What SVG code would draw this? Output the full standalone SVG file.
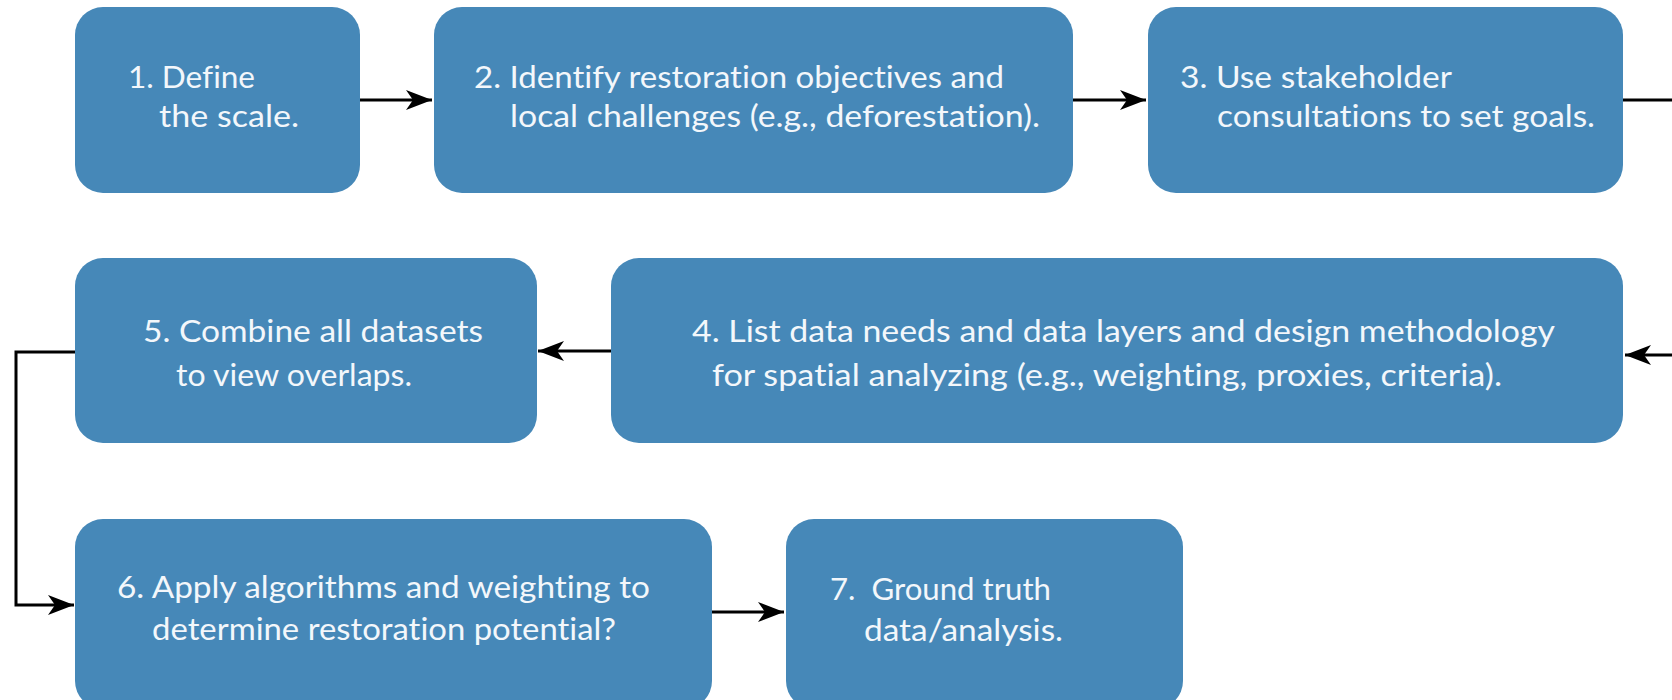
<svg xmlns="http://www.w3.org/2000/svg" width="1672" height="700" viewBox="0 0 1672 700">
<style>
.box{fill:#4688b8;}
.t{font-family:Lato,"Liberation Sans",sans-serif;font-size:30px;fill:#f3f7fb;font-variant-ligatures:none;}
.c{fill:none;stroke:#000;stroke-width:3;}
</style>
<defs>
<marker id="arr" markerUnits="userSpaceOnUse" markerWidth="28" markerHeight="22" refX="26" refY="11" orient="auto">
<path d="M0,1 L26,11 L0,21 L7,11 z" fill="#000"/>
</marker>
</defs>
<rect width="1672" height="700" fill="#fff"/>
<g id="connectors">
<path class="c" d="M360,100 H432" marker-end="url(#arr)"/>
<path class="c" d="M1073,100 H1146" marker-end="url(#arr)"/>
<path class="c" d="M1623,100 H1700 V355 H1625" marker-end="url(#arr)"/>
<path class="c" d="M611,351 H538" marker-end="url(#arr)"/>
<path class="c" d="M75,352 H16 V605 H74" marker-end="url(#arr)"/>
<path class="c" d="M712,612 H784" marker-end="url(#arr)"/>
</g>
<g id="n1"><rect class="box" x="75" y="7" width="285" height="186" rx="28"/>
<text class="t" x="128" y="88" textLength="127" lengthAdjust="spacingAndGlyphs">1. Define</text><text class="t" x="159" y="127" textLength="140" lengthAdjust="spacingAndGlyphs">the scale.</text></g>
<g id="n2"><rect class="box" x="434" y="7" width="639" height="186" rx="28"/>
<text class="t" x="474" y="88" textLength="530" lengthAdjust="spacingAndGlyphs">2. Identify restoration objectives and</text><text class="t" x="510" y="127" textLength="530" lengthAdjust="spacingAndGlyphs">local challenges (e.g., deforestation).</text></g>
<g id="n3"><rect class="box" x="1148" y="7" width="475" height="186" rx="28"/>
<text class="t" x="1180" y="88" textLength="272" lengthAdjust="spacingAndGlyphs">3. Use stakeholder</text><text class="t" x="1217" y="127" textLength="378" lengthAdjust="spacingAndGlyphs">consultations to set goals.</text></g>
<g id="n4"><rect class="box" x="611" y="258" width="1012" height="185" rx="28"/>
<text class="t" x="692" y="342" textLength="863" lengthAdjust="spacingAndGlyphs">4. List data needs and data layers and design methodology</text><text class="t" x="712" y="386" textLength="790" lengthAdjust="spacingAndGlyphs">for spatial analyzing (e.g., weighting, proxies, criteria).</text></g>
<g id="n5"><rect class="box" x="75" y="258" width="462" height="185" rx="28"/>
<text class="t" x="143" y="342" textLength="340" lengthAdjust="spacingAndGlyphs">5. Combine all datasets</text><text class="t" x="176" y="386" textLength="236" lengthAdjust="spacingAndGlyphs">to view overlaps.</text></g>
<g id="n6"><rect class="box" x="75" y="519" width="637" height="190" rx="28"/>
<text class="t" x="117" y="598" textLength="533" lengthAdjust="spacingAndGlyphs">6. Apply algorithms and weighting to</text><text class="t" x="152" y="640" textLength="464" lengthAdjust="spacingAndGlyphs">determine restoration potential?</text></g>
<g id="n7"><rect class="box" x="786" y="519" width="397" height="190" rx="28"/>
<text class="t" x="830" y="600" textLength="221" lengthAdjust="spacingAndGlyphs" xml:space="preserve" style="white-space:pre">7.  Ground truth</text><text class="t" x="864" y="641" textLength="199" lengthAdjust="spacingAndGlyphs">data/analysis.</text></g>
</svg>
